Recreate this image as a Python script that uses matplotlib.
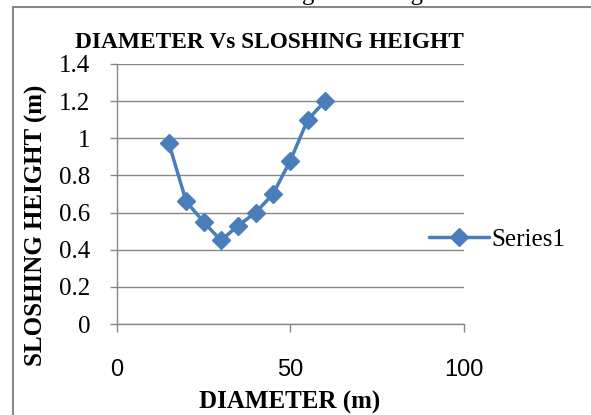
import matplotlib
matplotlib.use("Agg")
import matplotlib.pyplot as plt
from matplotlib.lines import Line2D

# Datos
diametro = [15, 20, 25, 30, 35, 40, 45, 50, 55, 60]
altura = [0.975, 0.66, 0.55, 0.45, 0.53, 0.60, 0.70, 0.88, 1.10, 1.20]
x_ticks = [0, 50, 100]
y_ticks = [0, 0.2, 0.4, 0.6, 0.8, 1, 1.2, 1.4]
y_tick_labels = ["0", "0.2", "0.4", "0.6", "0.8", "1", "1.2", "1.4"]

serif = "Liberation Serif"
sans = "Liberation Sans"
gris = "#878787"
azul = "#4A7EBB"

W, H = 591, 415
fig = plt.figure(figsize=(W / 100, H / 100), dpi=100)
ax = fig.add_axes([116.7 / W, 1 - 324 / H, (464 - 116.7) / W, (324 - 64) / H])

ax.plot(diametro, altura, color=azul, lw=2.5, marker="D", ms=9.5,
        solid_capstyle="round", label="Series1")

ax.set_xlim(0, 100)
ax.set_ylim(0, 1.4)
ax.set_xticks(x_ticks)
ax.set_yticks(y_ticks)
ax.set_yticklabels(y_tick_labels, family=serif, fontsize=18)
ax.set_xticklabels([str(t) for t in x_ticks], family=sans, fontsize=17)
ax.tick_params(axis="x", direction="out", length=6, width=1, color=gris, pad=19)
ax.tick_params(axis="y", direction="out", length=5, width=1, color=gris, pad=14)

ax.grid(axis="y", color=gris, lw=1)
ax.set_axisbelow(True)
for s in ["top", "right"]:
    ax.spines[s].set_visible(False)
for s in ["left", "bottom"]:
    ax.spines[s].set_color(gris)
    ax.spines[s].set_linewidth(1)

# Títulos
fig.text(269 / W, 1 - 43 / H, "DIAMETER Vs SLOSHING HEIGHT", family=serif,
         weight="bold", fontsize=16.8, ha="center", va="center")
fig.text(290 / W, 1 - 402 / H, "DIAMETER (m)", family=serif, weight="bold",
         fontsize=18, ha="center", va="center")
fig.text(36 / W, 1 - 225 / H, "SLOSHING HEIGHT (m)", family=serif, weight="bold",
         fontsize=18, ha="center", va="center", rotation=90)

# Texto cortado de arriba (en el original sólo se ve la parte baja)
fig.text(295 / W, 1.0, "Table of Sloshing wave heights", family=serif,
         fontsize=18, ha="center", va="baseline")

# Leyenda
leg = fig.legend(loc="center left", bbox_to_anchor=(429 / W, 1 - 240 / H),
                 frameon=False, prop={"family": serif, "size": 18},
                 handlelength=2.4, handletextpad=0.1, borderaxespad=0,
                 borderpad=0)

# Marco exterior
fig.add_artist(Line2D([12.5 / W, 12.5 / W], [0, 1 - 7 / H], color=gris, lw=1.5,
                      transform=fig.transFigure))
fig.add_artist(Line2D([12.5 / W, 1], [1 - 7 / H, 1 - 7 / H], color=gris, lw=1.5,
                      transform=fig.transFigure))

fig.savefig("out.png", dpi=100)
